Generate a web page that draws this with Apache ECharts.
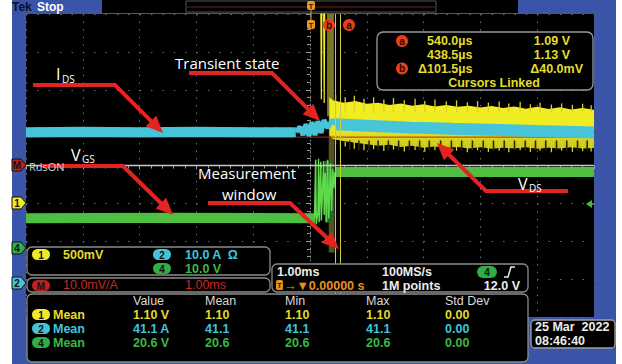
<!DOCTYPE html>
<html>
<head>
<meta charset="utf-8">
<script src="https://cdn.jsdelivr.net/npm/echarts@6.0.0/dist/echarts.min.js"></script>
<style>
  html, body { margin: 0; padding: 0; background: #fff; }
  #chart { width: 622px; height: 364px; }
</style>
</head>
<body>
<div id="chart"></div>
<script>
// time in ms (1.00 ms/div, trigger at 0), vertical position in divisions
const idsPre = [[-5, 0.88], [-4, 0.89], [-3, 0.88], [-2, 0.89], [-1, 0.88], [-0.25, 0.88]]
const idsTransient = [[-0.246, 0.88], [-0.176, 1.02], [-0.123, 0.80], [-0.070, 1.09], [-0.018, 0.78],
  [0.035, 1.15], [0.088, 0.80], [0.141, 1.17], [0.194, 0.86], [0.246, 1.20], [0.317, 0.99],
  [0.387, 1.20], [0.458, 1.09]]
const idsPost = [[0.45, 1.09], [0.53, 1.08], [1.0, 1.05], [1.78, 1.0], [2.5, 0.97], [3.35, 0.94], [4.0, 0.91], [5.0, 0.87]]

const vdsX = [0.34, 0.4, 0.6, 0.8, 1.0, 1.2, 1.4, 1.6, 1.8, 2.0, 2.2, 2.4, 2.6, 2.8, 3.0, 3.2, 3.4, 3.6, 3.8, 4.0, 4.2, 4.4, 4.6, 4.8, 5.0]
const vdsUpper = [1.80, 1.72, 1.66, 1.70, 1.63, 1.66, 1.60, 1.64, 1.58, 1.62, 1.56, 1.60, 1.55, 1.58, 1.53, 1.57, 1.52, 1.56, 1.50, 1.55, 1.49, 1.54, 1.48, 1.52, 1.47]
const vdsLower = [0.80, 0.70, 0.64, 0.60, 0.56, 0.52, 0.55, 0.49, 0.52, 0.47, 0.50, 0.46, 0.49, 0.45, 0.48, 0.44, 0.47, 0.45, 0.48, 0.44, 0.47, 0.45, 0.48, 0.45, 0.46]
const vdsSpikeX = [0.45, 0.62, 0.78, 0.95, 1.12, 1.30, 1.47, 1.66, 1.85, 2.02, 2.20, 2.40, 2.58, 2.77, 2.95, 3.14, 3.33, 3.50, 3.70, 3.88, 4.05, 4.25, 4.43, 4.62, 4.80, 4.95]
const vdsSpikeTop = [1.86, 1.80, 1.84, 1.76, 1.80, 1.74, 1.78, 1.72, 1.76, 1.70, 1.74, 1.69, 1.72, 1.67, 1.70, 1.66, 1.69, 1.64, 1.68, 1.62, 1.66, 1.61, 1.64, 1.60, 1.63, 1.59]
const vdsSpikeLow = [0.58, 0.50, 0.44, 0.40, 0.43, 0.38, 0.42, 0.37, 0.41, 0.36, 0.40, 0.36, 0.39, 0.35, 0.40, 0.36, 0.39, 0.35, 0.40, 0.36, 0.39, 0.35, 0.39, 0.36, 0.38, 0.37]
const vdsGapX = [0.53, 0.70, 0.86, 1.04, 1.20, 1.38, 1.56, 1.75, 1.93, 2.10, 2.30, 2.49, 2.67, 2.86, 3.05, 3.23, 3.42, 3.60, 3.79, 3.97, 4.15, 4.34, 4.52, 4.71, 4.88]
const vdsEdges = [[0.19, 4.3], [0.20, 1.75], [0.21, 4.3], [0.24, 4.3], [0.25, 1.65], [0.26, 4.3]]

const vgsPre = [[-5, -1.39], [-2.5, -1.38], [0.09, -1.39]]
const vgsSpikes = [[0.08, -1.39], [0.10, 0.15], [0.11, -1.55], [0.14, -1.2], [0.15, 0.18], [0.16, -1.5],
  [0.19, 0.1], [0.20, -1.45], [0.24, 0.12], [0.25, -1.3], [0.27, -0.2], [0.29, -1.5], [0.31, 0.15],
  [0.33, -1.4], [0.36, 0.05], [0.38, -1.2], [0.40, -0.1], [0.42, -0.6], [0.44, -0.17]]
const vgsPost = [[0.44, -0.17], [5, -0.17]]

const rdsOn = [[-5, 0], [5, 0]]
const refTrace = [[-5, 0.75], [5, 0.75]]
const cursorA = 0.540
const cursorB = 0.4385

const cursorRows = [['540.0µs', '1.09 V'], ['438.5µs', '1.13 V'], ['Δ101.5µs', 'Δ40.0mV']]
const measHeader = ['Value', 'Mean', 'Min', 'Max', 'Std Dev']
const measRows = [
  ['1', '1.10 V', '1.10', '1.10', '1.10', '0.00'],
  ['2', '41.1 A', '41.1', '41.1', '41.1', '0.00'],
  ['4', '20.6 V', '20.6', '20.6', '20.6', '0.00']
]

const YELLOW = '#f2ee22'
const CYAN = '#48c4d8'
const GREEN = '#4fbf3f'
const RED = '#e52421'
const TXT_Y = '#e2dd2c'
const TXT_C = '#3ec6dc'
const TXT_G = '#3cb845'
const SCOPE_FONT = '"Liberation Sans", Arial, sans-serif'
const NOTE_FONT = '"Open Sans", "DejaVu Sans", sans-serif'
const chColor = { '1': '#f0e82a', '2': '#45c4d8', '4': '#2fae44', 'M': '#c0201e' }
const chText = { '1': TXT_Y, '2': TXT_C, '4': TXT_G }

const chart = echarts.init(document.getElementById('chart'), null, { renderer: 'svg' })

function txt(x, y, s, color, size, align, weight, family) {
  size = size || 12
  return {
    type: 'text', x: x, y: y, z: 120,
    style: {
      text: s, fill: color, fontSize: size, fontFamily: family || SCOPE_FONT, fontWeight: weight || 700, lineHeight: size,
      textAlign: align || 'left', align: align || 'left', textVerticalAlign: 'middle', verticalAlign: 'middle'
    }
  }
}

function note(x, y, s, size) {
  return txt(x, y, s, '#ffffff', size, 'left', 400, NOTE_FONT)
}

function box(x, y, w, h, r, stroke) {
  return { type: 'rect', z: 110, shape: { x: x, y: y, width: w, height: h, r: r }, style: { fill: '#000', stroke: stroke || '#8c8c8c', lineWidth: 1.3 } }
}

function pill(x, y, ch) {
  return [
    { type: 'rect', z: 115, shape: { x: x, y: y, width: 18, height: 11, r: 5.5 }, style: { fill: chColor[ch] } },
    txt(x + 9, y + 6, ch, '#111', 10, 'center', 700)
  ]
}

function marker(y, ch) {
  return [
    { type: 'polygon', z: 115, shape: { points: [[12, y - 6], [21, y - 6], [26, y], [21, y + 6], [12, y + 6]] }, style: { fill: chColor[ch], stroke: '#111', lineWidth: 1 } },
    txt(17, y + 0.5, ch, '#111', 10, 'center', 700)
  ]
}

function badge(cx, cy, s) {
  return [
    { type: 'circle', z: 115, shape: { cx: cx, cy: cy, r: 6 }, style: { fill: '#e8401c' } },
    txt(cx, cy, s, '#2a0800', 10, 'center', 700)
  ]
}

function arrow(pts) {
  const n = pts.length
  const x1 = pts[n - 2][0], y1 = pts[n - 2][1], x2 = pts[n - 1][0], y2 = pts[n - 1][1]
  const len = Math.hypot(x2 - x1, y2 - y1)
  const ux = (x2 - x1) / len, uy = (y2 - y1) / len
  const hl = 17, hw = 7.5
  const bx = x2 - ux * hl, by = y2 - uy * hl
  const line = pts.slice(0, n - 1).concat([[bx + ux * 2, by + uy * 2]])
  return [
    { type: 'polyline', z: 60, shape: { points: line }, style: { stroke: RED, lineWidth: 4, fill: null, lineJoin: 'miter' } },
    { type: 'polygon', z: 60, shape: { points: [[x2, y2], [bx - uy * hw, by + ux * hw], [bx + uy * hw, by - ux * hw]] }, style: { fill: RED } }
  ]
}

const graphics = [
  // frame
  { type: 'rect', z: -10, shape: { x: 12, y: 0, width: 604, height: 364 }, style: { fill: '#3a55a8' } },
  { type: 'rect', z: -5, shape: { x: 26, y: 14, width: 568, height: 303 }, style: { fill: '#000' } },
  { type: 'rect', z: -5, shape: { x: 102, y: 0, width: 416, height: 13 }, style: { fill: '#000' } },
  { type: 'rect', z: 5, shape: { x: 186, y: 1, width: 250, height: 11 }, style: { fill: null, stroke: '#555', lineWidth: 1 } },
  { type: 'line', z: 6, shape: { x1: 187, y1: 7, x2: 435, y2: 7 }, style: { stroke: '#7a1a1a', lineWidth: 1 } },
  txt(12, 7, 'Tek', '#0a0f30', 12, 'left', 700),
  txt(37, 7, 'Stop', '#ffffff', 12, 'left', 700),
  // trigger position markers
  { type: 'line', z: 30, shape: { x1: 311, y1: 10, x2: 311, y2: 20 }, style: { stroke: '#e0a020', lineWidth: 1 } },
  { type: 'rect', z: 30, shape: { x: 307, y: 1, width: 8, height: 9, r: 2 }, style: { fill: '#e89a20' } },
  txt(311, 6, 'T', '#3a2000', 8, 'center', 700),
  { type: 'rect', z: 30, shape: { x: 307, y: 20, width: 8, height: 9, r: 2 }, style: { fill: '#e89a20' } },
  txt(311, 25, 'T', '#3a2000', 8, 'center', 700),
  // trigger level
  { type: 'polygon', z: 30, shape: { points: [[586, 204], [592, 200], [592, 208]] }, style: { fill: '#3cc040' } },
  { type: 'line', z: 30, shape: { x1: 590, y1: 204, x2: 594, y2: 204 }, style: { stroke: '#3cc040', lineWidth: 1.5 } },
  txt(29, 166, 'RdsON', '#d0d0d0', 11, 'left', 400, NOTE_FONT),
  // annotations
  note(175, 63, 'Transient state', 15),
  note(56, 74, 'I', 16),
  note(62, 79, 'DS', 10),
  note(71, 155, 'V', 16),
  note(82, 159, 'GS', 10),
  note(198, 173, 'Measurement', 15),
  note(222, 194, 'window', 15),
  note(518, 184, 'V', 16),
  note(529, 188, 'DS', 10)
]
  .concat(arrow([[33, 85], [115, 85], [163, 133]]))
  .concat(arrow([[189, 73], [272, 73], [320, 121]]))
  .concat(arrow([[41, 166], [123, 166], [173, 215]]))
  .concat(arrow([[208, 203], [290, 203], [339, 249]]))
  .concat(arrow([[568, 191], [486, 191], [437, 143]]))
  .concat(marker(165, 'M'), marker(203, '1'), marker(248, '4'), marker(283, '2'))
  .concat(badge(329, 25, 'b'), badge(349, 25, 'a'))

// cursor readout
graphics.push(box(377, 32, 216, 58, 6, '#9a9a9a'))
const cursorY = [41, 54.5, 68.5]
graphics.push(...badge(402, cursorY[0], 'a'), ...badge(402, cursorY[2], 'b'))
cursorRows.forEach((row, i) => {
  graphics.push(txt(i === 2 ? 418 : 427, cursorY[i], row[0], TXT_Y, 12.5))
  graphics.push(txt(i === 2 ? 583 : 570, cursorY[i], row[1], TXT_Y, 12.5, 'right'))
})
graphics.push(txt(494, 83, 'Cursors Linked', TXT_Y, 12.5, 'center'))

// vertical / horizontal settings
graphics.push(box(27, 247, 243, 28, 5), box(27, 278, 243, 14, 5), box(272, 264, 256, 28, 5), box(27, 294, 501, 68, 5))
graphics.push(...pill(32, 249, '1'), txt(63, 254.5, '500mV', TXT_Y, 12.5))
graphics.push(...pill(153, 249, '2'), txt(185, 254.5, '10.0 A  Ω', TXT_C, 12.5))
graphics.push(...pill(153, 263, '4'), txt(185, 268.5, '10.0 V', TXT_G, 12.5))
graphics.push(...pill(32, 280, 'M'), txt(63, 285, '10.0mV/A', '#c42a25', 12.5, 'left', 400), txt(185, 285, '1.00ms', '#c42a25', 12.5, 'left', 400))
graphics.push(txt(277, 271.5, '1.00ms', '#ececec', 12.5), txt(382, 271.5, '100MS/s', '#ececec', 12.5))
graphics.push({ type: 'rect', z: 115, shape: { x: 477, y: 266, width: 20, height: 12, r: 6 }, style: { fill: '#2fae44' } }, txt(487, 272, '4', '#111', 10, 'center', 700))
graphics.push({ type: 'polyline', z: 115, shape: { points: [[504, 277], [508, 277], [511, 267], [515, 267]] }, style: { stroke: '#ececec', lineWidth: 1.5, fill: null } })
graphics.push({ type: 'rect', z: 115, shape: { x: 276, y: 280, width: 7, height: 10, r: 1.5 }, style: { fill: '#e8901e' } }, txt(279.5, 285, 'T', '#3a2000', 8, 'center', 700))
graphics.push(txt(284, 285.5, '→▼0.00000 s', '#e8901e', 12.5), txt(382, 285.5, '1M points', '#ececec', 12.5), txt(520, 285.5, '12.0 V', '#ececec', 12.5, 'right'))

// measurements
const colX = [133, 205, 285, 366, 445]
const rowY = [315, 329, 343]
measHeader.forEach((h, i) => graphics.push(txt(colX[i], 301, h, '#d8d8d8', 12.5, 'left', 400)))
measRows.forEach((row, r) => {
  const y = rowY[r]
  const c = chText[row[0]]
  graphics.push(...pill(32, y - 6, row[0]), txt(53, y, 'Mean', c, 12.5))
  row.slice(1).forEach((v, i) => graphics.push(txt(colX[i], y, v, c, 12.5)))
})

// date
graphics.push(box(531, 320, 84, 28, 4, '#a0a0a0'), txt(535, 327, '25 Mar  2022', '#ececec', 12.5), txt(535, 341, '08:46:40', '#ececec', 12.5))

function trace(name, data, color, width, extra) {
  return Object.assign({ name: name, type: 'line', data: data, symbol: 'none', silent: true,
    lineStyle: { color: color, width: width }, itemStyle: { color: color } }, extra || {})
}

const vdsFill = new echarts.graphic.LinearGradient(0, 0, 0, 1, [
  { offset: 0, color: '#f2ee22' }, { offset: 0.55, color: '#f0ec22' }, { offset: 1, color: '#c8c21c' }])

const option = {
  animation: false,
  backgroundColor: 'transparent',
  grid: { left: 26, right: 28, top: 14, bottom: 47 },
  xAxis: {
    type: 'value', min: -5, max: 5, interval: 1,
    axisLabel: { show: false },
    axisLine: { onZero: true, lineStyle: { color: '#8a8a8a', type: [1, 3] } },
    axisTick: { show: true, length: 4, lineStyle: { color: '#9a9a9a' } },
    minorTick: { show: true, splitNumber: 5, length: 3, lineStyle: { color: '#9a9a9a' } },
    splitLine: { show: true, lineStyle: { color: '#6e6e6e', width: 1, type: [1.5, 6.08] } }
  },
  yAxis: {
    type: 'value', min: -4, max: 4, interval: 1,
    axisLabel: { show: false },
    axisLine: { onZero: true, lineStyle: { color: '#8a8a8a', type: [1, 3] } },
    axisTick: { show: true, length: 4, lineStyle: { color: '#9a9a9a' } },
    minorTick: { show: true, splitNumber: 5, length: 3, lineStyle: { color: '#9a9a9a' } },
    splitLine: { show: true, lineStyle: { color: '#6e6e6e', width: 1, type: [1.5, 9.86] } }
  },
  series: [
    trace('cursors', [], '#c8c83a', 1, {
      markArea: {
        silent: true,
        itemStyle: { color: '#7a7622' },
        data: [
          [{ xAxis: 0.30, yAxis: 4 }, { xAxis: 0.42, yAxis: 1.3 }],
          [{ xAxis: 0.33, yAxis: 1.3, itemStyle: { color: '#55531c' } }, { xAxis: 0.43, yAxis: -2.3 }]
        ]
      },
      markLine: {
        silent: true, symbol: 'none', label: { show: false },
        lineStyle: { color: '#cfcc3a', width: 1, type: 'solid' },
        data: [{ xAxis: cursorA }, { xAxis: cursorB }]
      }
    }),
    {
      name: 'vdsBand', type: 'custom', silent: true,
      data: vdsX.map((x, i) => [x, vdsLower[i], vdsUpper[i]]),
      encode: { x: 0, y: [1, 2] },
      renderItem: function (params, api) {
        if (params.dataIndex !== 0) return null
        const top = vdsX.map((x, i) => api.coord([x, vdsUpper[i]]))
        const bottom = vdsX.map((x, i) => api.coord([x, vdsLower[i]])).reverse()
        return { type: 'polygon', shape: { points: top.concat(bottom) }, style: { fill: vdsFill } }
      }
    },
    {
      name: 'vdsSpikes', type: 'custom', silent: true,
      data: vdsSpikeX.map((x, i) => [x, vdsSpikeTop[i], vdsSpikeLow[i]]),
      encode: { x: 0, y: [1, 2] },
      renderItem: function (params, api) {
        const x = api.value(0)
        const a = api.coord([x, api.value(1)]), b = api.coord([x, 1.4])
        const c = api.coord([x, api.value(2)]), d = api.coord([x, 0.62])
        return { type: 'group', children: [
          { type: 'line', shape: { x1: a[0], y1: a[1], x2: b[0], y2: b[1] }, style: { stroke: '#d9d420', lineWidth: 1.3 } },
          { type: 'line', shape: { x1: c[0], y1: c[1], x2: d[0], y2: d[1] }, style: { stroke: '#d9d420', lineWidth: 1.3 } }
        ] }
      }
    },
    {
      name: 'vdsGaps', type: 'custom', silent: true,
      data: vdsGapX.map(x => [x]),
      encode: { x: 0 },
      renderItem: function (params, api) {
        const x = api.value(0)
        const a = api.coord([x, 0.40]), b = api.coord([x, 0.66])
        return { type: 'line', shape: { x1: a[0], y1: a[1], x2: b[0], y2: b[1] }, style: { stroke: '#2c2a08', lineWidth: 1.6 } }
      }
    },
    trace('vdsEdges', vdsEdges, YELLOW, 1.2),
    trace('ref', refTrace, '#b02a1a', 1),
    trace('idsPre', idsPre, CYAN, 10),
    trace('idsTransient', idsTransient, CYAN, 5),
    trace('idsPost', idsPost, CYAN, 12),
    trace('vgsPre', vgsPre, GREEN, 10),
    trace('vgsSpikes', vgsSpikes, '#5fd84a', 1.5, {
      markArea: {
        silent: true,
        itemStyle: { color: '#1d6a25' },
        data: [[{ xAxis: 0.26, yAxis: 0.12 }, { xAxis: 0.42, yAxis: -1.5 }]]
      }
    }),
    trace('vgsPost', vgsPost, GREEN, 10),
    trace('rdsOn', rdsOn, '#c8c8c8', 1.5)
  ],
  graphic: graphics
}

chart.setOption(option)
</script>
</body>
</html>
